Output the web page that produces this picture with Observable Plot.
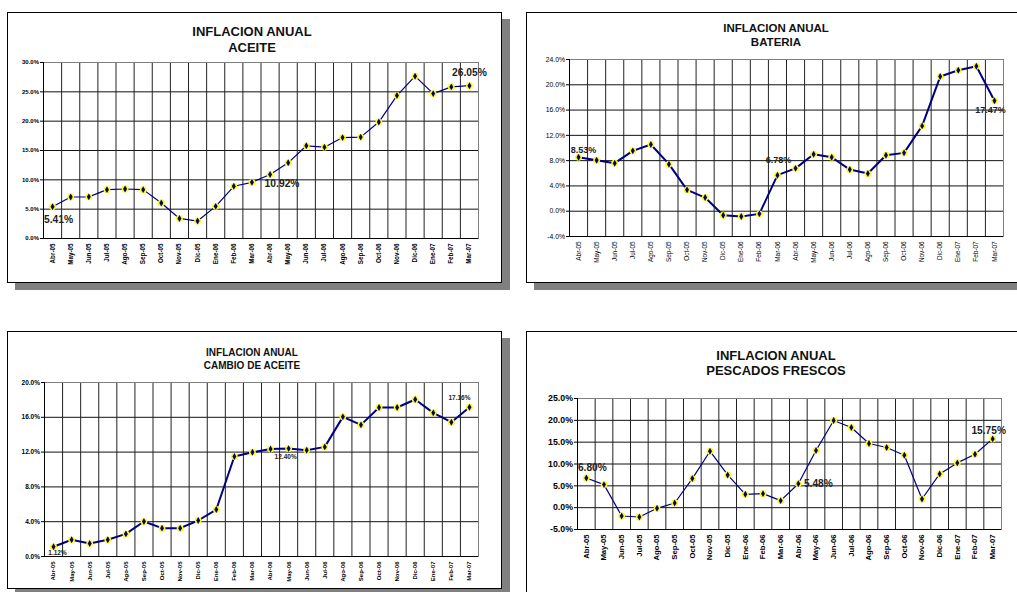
<!DOCTYPE html>
<html>
<head>
<meta charset="utf-8">
<script src="https://cdn.jsdelivr.net/npm/d3@7"></script>
<script src="https://cdn.jsdelivr.net/npm/@observablehq/plot@0.6"></script>
<style>
  html, body { margin: 0; padding: 0; background: #fff; }
  #page { position: relative; width: 1017px; height: 592px; overflow: hidden; background: #fff; font-family: "Liberation Sans", Arial, sans-serif; }
  .box { position: absolute; box-sizing: border-box; border: 1px solid #000; background: #fff; box-shadow: 8px 7px 0 #808080; }
  .title { position: absolute; width: 300px; text-align: center; font-weight: bold; color: #111; white-space: nowrap; }
  .plot { position: absolute; }
</style>
</head>
<body>
<div id="page"></div>
<script>
// ---- data ----
const months = ["Abr-05","May-05","Jun-05","Jul-05","Ago-05","Sep-05","Oct-05","Nov-05","Dic-05","Ene-06","Feb-06","Mar-06","Abr-06","May-06","Jun-06","Jul-06","Ago-06","Sep-06","Oct-06","Nov-06","Dic-06","Ene-07","Feb-07","Mar-07"];

const aceite   = [5.41,7.07,7.10,8.33,8.44,8.33,6.05,3.42,2.97,5.48,8.90,9.58,10.92,12.90,15.80,15.57,17.20,17.28,19.85,24.36,27.67,24.70,25.84,26.05];
const bateria  = [8.53,8.07,7.60,9.55,10.55,7.44,3.38,2.16,-0.63,-0.84,-0.42,5.70,6.78,9.02,8.54,6.59,5.96,8.86,9.23,13.50,21.30,22.30,22.94,17.47];
const cambio   = [1.12,1.92,1.49,1.92,2.60,4.02,3.26,3.26,4.14,5.40,11.49,11.99,12.35,12.40,12.22,12.60,16.05,15.13,17.13,17.13,18.05,16.51,15.44,17.16];
const pescados = [6.80,5.28,-1.91,-2.14,-0.15,1.07,6.66,12.93,7.50,3.06,3.21,1.61,5.48,13.08,19.97,18.36,14.69,13.77,12.01,1.99,7.73,10.25,12.24,15.75];

const titles = [
  ["INFLACION ANUAL", "ACEITE"],
  ["INFLACION ANUAL", "BATERIA"],
  ["INFLACION ANUAL", "CAMBIO DE ACEITE"],
  ["INFLACION ANUAL", "PESCADOS FRESCOS"]
];
const labelled = [[0, 12, 23], [0, 12, 23], [0, 13, 23], [0, 12, 23]];

// ---- layout / style ----
const panels = [
  {values: aceite, title: titles[0], labels: labelled[0],
   box: {l: 7, t: 12, w: 495, h: 271}, area: {x0: 43, x1: 478, y0: 62, y1: 238},
   y: [0, 30], step: 5, lw: 1.2, ty: [32, 48], cx: 252, tfs: 13,
   yfs: 6, yfw: "bold", xfs: 6.3, xfw: "bold", afs: 10.3,
   off: [[6, 13], [12, 9], [0, -13]]},
  {values: bateria, title: titles[1], labels: labelled[1],
   box: {l: 526, t: 12, w: 491, h: 271}, area: {x0: 569, x1: 1003, y0: 59, y1: 236},
   y: [-4, 24], step: 4, lw: 2, ty: [28, 42], cx: 776, tfs: 11.5,
   yfs: 6.8, yfw: "normal", xfs: 6.4, xfw: "normal", afs: 9,
   off: [[5, -7], [-17, -8], [-4, 9]]},
  {values: cambio, title: titles[2], labels: labelled[2],
   box: {l: 7, t: 331, w: 495, h: 258}, area: {x0: 44, x1: 478, y0: 382, y1: 556},
   y: [0, 20], step: 4, lw: 2, ty: [353, 366], cx: 252, tfs: 10,
   yfs: 6.5, yfw: "bold", xfs: 6, xfw: "bold", afs: 6.5,
   off: [[4, 6], [-3, 8], [-10, -9]]},
  {values: pescados, title: titles[3], labels: labelled[3],
   box: {l: 526, t: 331, w: 491, h: 270}, area: {x0: 577, x1: 1001, y0: 398, y1: 529},
   y: [-5, 25], step: 5, lw: 1.2, ty: [356, 371], cx: 776, tfs: 13,
   yfs: 8.8, yfw: "bold", xfs: 7.7, xfw: "bold", afs: 10.2,
   off: [[6, -10], [20, 0], [-4, -8]]}
];

const page = document.getElementById("page");
const NAVY = "#000080";

panels.forEach(p => {
  const box = document.createElement("div");
  box.className = "box";
  Object.assign(box.style, {left: p.box.l + "px", top: p.box.t + "px", width: (p.box.w + 20) * (p.box.l > 500 ? 1 : 0) + (p.box.l > 500 ? 0 : p.box.w) + "px", height: p.box.h + "px"});
  page.appendChild(box);

  p.title.forEach((line, k) => {
    const d = document.createElement("div");
    d.className = "title";
    d.textContent = line;
    const lh = Math.round(p.tfs * 1.2);
    Object.assign(d.style, {left: (p.cx - 150) + "px", top: (p.ty[k] - lh / 2) + "px", fontSize: p.tfs + "px", lineHeight: lh + "px"});
    page.appendChild(d);
  });

  const data = months.map((m, i) => ({i, m, v: p.values[i]}));
  const ticks = d3.range(p.y[0], p.y[1] + 1e-9, p.step);
  const ann = p.labels.map((i, k) => ({i, v: p.values[i], dx: p.off[k][0], dy: p.off[k][1]}));

  const chart = Plot.plot({
    width: p.box.w,
    height: p.box.h,
    marginLeft: p.area.x0 - p.box.l,
    marginRight: p.box.l + p.box.w - p.area.x1,
    marginTop: p.area.y0 - p.box.t,
    marginBottom: p.box.t + p.box.h - p.area.y1,
    style: {fontFamily: "'Liberation Sans', Arial, sans-serif", background: "transparent", overflow: "visible", color: "#000"},
    x: {type: "linear", domain: [-0.5, months.length - 0.5]},
    y: {domain: p.y},
    marks: [
      Plot.ruleY(ticks, {stroke: "#111", strokeWidth: 1}),
      Plot.ruleX(d3.range(months.length + 1), {x: d => d - 0.5, stroke: "#222", strokeWidth: 1}),
      Plot.frame({stroke: "#808080"}),
      Plot.ruleX([-0.5], {stroke: "#000"}),
      Plot.ruleY([p.y[0]], {stroke: "#000"}),
      Plot.axisY({ticks, tickFormat: d => d.toFixed(1) + "%", tickSize: 3, tickPadding: 1.5,
                  fontSize: p.yfs, fontWeight: p.yfw, label: null}),
      Plot.axisX({ticks: d3.range(months.length), tickFormat: i => months[i], tickRotate: -90,
                  tickSize: 0, tickPadding: 5, fontSize: p.xfs, fontWeight: p.xfw, label: null}),
      Plot.line(data, {x: "i", y: "v", stroke: NAVY, strokeWidth: p.lw}),
      Plot.dot(data, {x: "i", y: "v", r: 3.4, fill: "#ffff00", stroke: "none"}),
      Plot.dot(data, {x: "i", y: "v", r: 2.1, symbol: "diamond", fill: NAVY, stroke: "none"}),
      ...ann.map(a => Plot.text([a], {x: "i", y: "v", text: d => d.v.toFixed(2) + "%", dx: a.dx, dy: a.dy,
                  fontSize: p.afs, fontWeight: "bold", fill: "#222"}))
    ]
  });
  chart.classList.add("plot");
  Object.assign(chart.style, {left: p.box.l + "px", top: p.box.t + "px"});
  page.appendChild(chart);
});
</script>
</body>
</html>
